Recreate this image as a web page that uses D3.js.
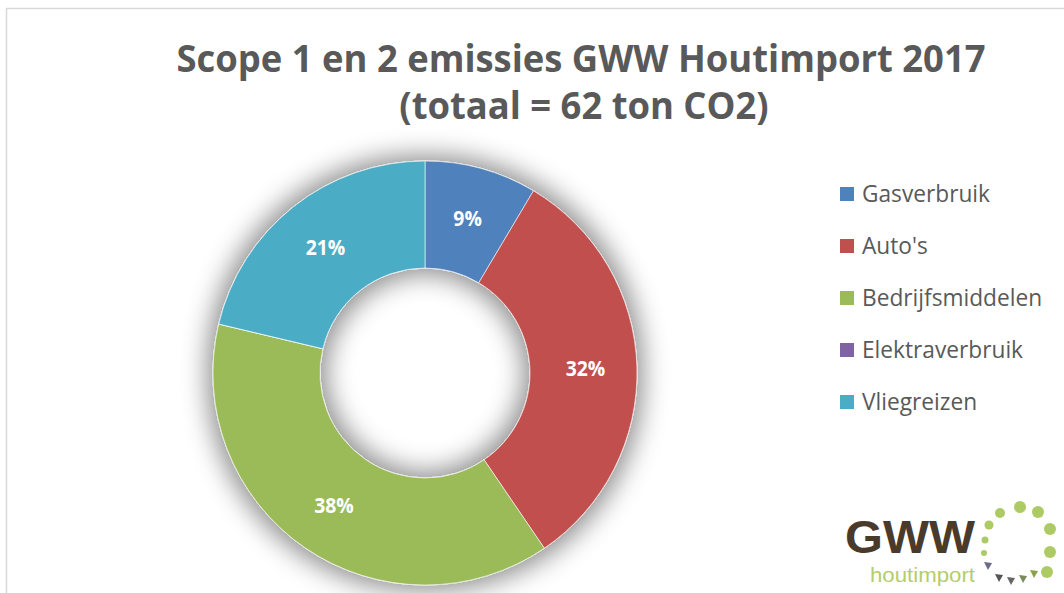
<!DOCTYPE html>
<html><head><meta charset="utf-8">
<script src="https://cdn.jsdelivr.net/npm/d3@7"></script>
<style>body{margin:0;background:#fff;} svg{display:block;}</style>
</head><body>
<svg id="c" width="1064" height="593"></svg>
<script>
const categories = ["Gasverbruik", "Auto's", "Bedrijfsmiddelen", "Elektraverbruik", "Vliegreizen"];
const values = [5.3, 19.8, 23.7, 0, 13.2]; // ton CO2
const colors = ["#4F81BD", "#C0504D", "#9BBB59", "#8064A2", "#4BACC6"];
const titleLines = ["Scope 1 en 2 emissies GWW Houtimport 2017", "(totaal = 62 ton CO2)"];

const svg = d3.select("#c");
const W = 1064, H = 593;
const font = "'Open Sans', Lato, sans-serif";
const txt = "#595959";

// chart border
svg.append("rect").attr("x", 6.5).attr("y", 8.5).attr("width", W + 10).attr("height", H + 10)
  .attr("fill", "#fff").attr("stroke", "#d9d9d9").attr("stroke-width", 1.5);

// compress text horizontally to mimic a narrower face
function squeeze(sel, k) {
  sel.each(function() {
    const w = this.getComputedTextLength();
    d3.select(this).attr("textLength", w * k).attr("lengthAdjust", "spacingAndGlyphs");
  });
}

// title
const t1 = svg.append("text").attr("x", 581).attr("y", 72).attr("text-anchor", "middle")
  .attr("font-family", font).attr("font-weight", "bold").attr("fill", txt)
  .attr("font-size", 38).text(titleLines[0]);
const k = 809 / t1.node().getComputedTextLength();
squeeze(t1, k);
const t2 = svg.append("text").attr("x", 584).attr("y", 119).attr("text-anchor", "middle")
  .attr("font-family", font).attr("font-weight", "bold").attr("fill", txt)
  .attr("font-size", 38).text(titleLines[1]);
squeeze(t2, k);

// shadow filter
const defs = svg.append("defs");
const f = defs.append("filter").attr("id", "sh").attr("x", "-30%").attr("y", "-30%").attr("width", "160%").attr("height", "160%");
f.append("feMorphology").attr("in", "SourceAlpha").attr("operator", "dilate").attr("radius", 5).attr("result", "d");
f.append("feGaussianBlur").attr("in", "d").attr("stdDeviation", 13).attr("result", "b");
f.append("feFlood").attr("flood-color", "#000").attr("flood-opacity", 0.45);
f.append("feComposite").attr("in2", "b").attr("operator", "in").attr("result", "s");
const m = f.append("feMerge");
m.append("feMergeNode").attr("in", "s");
m.append("feMergeNode").attr("in", "SourceGraphic");

// donut
const cx = 425, cy = 373, rO = 212, rI = 105;
const total = d3.sum(values);
const pie = d3.pie().sort(null).value(d => d)(values);
const arc = d3.arc().innerRadius(rI).outerRadius(rO);
const g = svg.append("g").attr("transform", `translate(${cx},${cy})`);
const ring = g.append("g").attr("filter", "url(#sh)");
ring.selectAll("path").data(pie).join("path")
  .attr("d", arc).attr("fill", (d, i) => colors[i])
  .attr("stroke", "#fff").attr("stroke-width", 0.6);

const labelArc = d3.arc().innerRadius((rI + rO) / 2 + 2).outerRadius((rI + rO) / 2 + 2);
const lbl = g.selectAll("text.lbl").data(pie.filter(d => d.value > 0)).join("text")
  .attr("class", "lbl")
  .attr("transform", d => `translate(${labelArc.centroid(d)})`)
  .attr("text-anchor", "middle").attr("dy", "0.36em")
  .attr("font-family", font).attr("font-weight", "bold").attr("font-size", 22)
  .attr("fill", "#fff")
  .text(d => Math.round(d.value / total * 100) + "%");
squeeze(lbl, 0.88);

// legend
const lg = svg.append("g").attr("transform", "translate(840,194)");
const rows = lg.selectAll("g").data(categories).join("g")
  .attr("transform", (d, i) => `translate(0,${i * 52})`);
rows.append("rect").attr("x", 0).attr("y", -7).attr("width", 14).attr("height", 14)
  .attr("fill", (d, i) => colors[i]);
const lt = rows.append("text").attr("x", 22).attr("y", 0).attr("dy", "0.36em")
  .attr("font-family", font).attr("font-size", 23.5).attr("fill", txt).text(d => d);
const lk = 128 / lt.nodes()[0].getComputedTextLength();
squeeze(lt, lk);

// logo
const logo = svg.append("g");
logo.append("text").attr("x", 845).attr("y", 553).attr("font-family", "'Liberation Sans', Arial, sans-serif")
  .attr("font-weight", "bold").attr("font-size", 47).attr("fill", "#4a3a2c")
  .attr("textLength", 130).attr("lengthAdjust", "spacingAndGlyphs").text("GWW");
logo.append("text").attr("x", 870).attr("y", 582).attr("font-family", "'Liberation Sans', Arial, sans-serif")
  .attr("font-size", 20).attr("fill", "#b5cc6a")
  .attr("textLength", 105).attr("lengthAdjust", "spacingAndGlyphs").text("houtimport");
const dots = [[984,553,3],[985,540,3.5],[989,525,4.5],[1000,513,5],[1020,507,6],[1038,512,6],[1050,529,6],[1050,552,6],[1047,572,6]];
logo.selectAll("circle").data(dots).join("circle")
  .attr("cx", d => d[0]).attr("cy", d => d[1]).attr("r", d => d[2]).attr("fill", "#9dc24a").attr("opacity", 0.85);
const tris = [[988,566,"#6a6a8a"],[999,578,"#555"],[1011,581,"#666"],[1023,579,"#7a8a5a"],[1034,574,"#8aa04a"]];
logo.selectAll("path.tri").data(tris).join("path").attr("class","tri")
  .attr("d", d => `M${d[0]-4},${d[1]-4}L${d[0]+4},${d[1]-3}L${d[0]},${d[1]+4}Z`).attr("fill", d => d[2]);
</script>
</body></html>
